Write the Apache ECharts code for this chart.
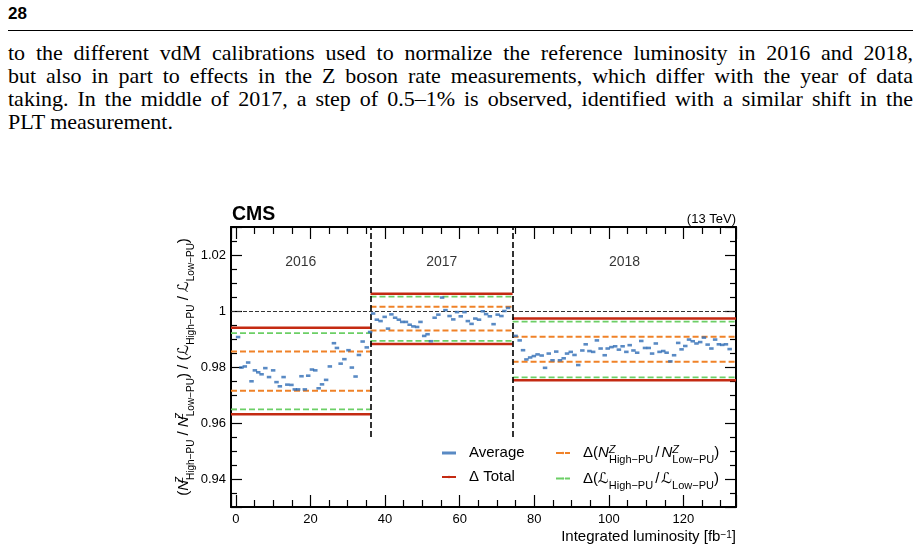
<!DOCTYPE html>
<html>
<head>
<meta charset="utf-8">
<script src="https://cdn.jsdelivr.net/npm/echarts@6/dist/echarts.min.js"></script>
<style>
html, body { margin: 0; padding: 0; background: #fff; }
#page { position: relative; width: 921px; height: 551px; overflow: hidden; }
#pno { position: absolute; left: 8px; top: 4px; font: bold 17px "Liberation Sans", Arial, sans-serif; color: #000; }
#rule { position: absolute; left: 8px; top: 30px; width: 905px; height: 1px; background: #000; }
#para { position: absolute; left: 8px; top: 41px; width: 905px; font: 22px/23px "Liberation Serif", serif; color: #000; }
#para div { text-align: justify; text-align-last: justify; }
#para div.last { text-align-last: left; }
#chart { position: absolute; left: 0; top: 0; width: 921px; height: 551px; }
</style>
</head>
<body>
<div id="page">
  <div id="pno">28</div>
  <div id="rule"></div>
  <div id="para">
    <div>to the different vdM calibrations used to normalize the reference luminosity in 2016 and 2018,</div>
    <div>but also in part to effects in the Z boson rate measurements, which differ with the year of data</div>
    <div>taking. In the middle of 2017, a step of 0.5–1% is observed, identified with a similar shift in the</div>
    <div class="last">PLT measurement.</div>
  </div>
  <div id="chart"></div>
</div>
<script>
// axis ranges
const lumiMin = -1.3;
const lumiMax = 134.1;
const ratioMin = 0.93;
const ratioMax = 1.03;

// year blocks: edges in integrated luminosity, labels
const yearEdges = [-1.3, 36.1, 74.2, 134.1];
const yearNames = ['2016', '2017', '2018'];
const yearLabelLumi = [17.4, 55.2, 104.2];
const yearLabelRatio = 1.0175;
const boundaryBottom = 0.955;

// uncertainty bands per year (upper / lower edge)
const totalUp = [0.9940, 1.0062, 0.9973];
const totalDown = [0.9631, 0.9882, 0.9753];
const zRatioUp = [0.9855, 1.0015, 0.9908];
const zRatioDown = [0.9715, 0.9930, 0.9819];
const lumiRatioUp = [0.9921, 1.0051, 0.9962];
const lumiRatioDown = [0.9649, 0.9893, 0.9763];

// averaged ratio points
const lumi2016 = [0.6,1.5,2.4,3.3,4.2,5.1,6.0,6.9,7.9,8.9,10.0,10.9,11.8,12.8,13.8,14.9,15.8,16.7,17.6,18.5,19.4,20.4,21.3,22.2,23.1,24.2,25.2,26.3,27.1,28.1,29.1,30.2,31.1,32.1,33.0,34.0,35.1,36.0];
const ratio2016 = [0.9907,0.9798,0.9802,0.9816,0.9749,0.9788,0.9781,0.9774,0.9796,0.9764,0.9788,0.9746,0.9731,0.9764,0.9737,0.9736,0.9720,0.9720,0.9767,0.9720,0.9769,0.9791,0.9788,0.9724,0.9738,0.9754,0.9802,0.9885,0.9868,0.9812,0.9828,0.9860,0.9798,0.9766,0.9843,0.9891,0.9870,0.9925];
const lumi2017 = [36.8,37.8,38.8,39.9,40.8,41.7,42.7,43.7,44.6,45.6,46.6,47.6,48.6,49.5,50.5,51.4,52.3,53.3,54.3,55.3,56.2,57.3,58.3,59.3,60.3,61.3,62.2,63.2,64.2,65.2,66.2,67.1,68.1,69.1,70.2,71.2,72.0,73.0];
const ratio2017 = [0.9991,0.9969,0.9964,0.9979,0.9937,0.9988,0.9976,0.9969,0.9961,0.9961,0.9951,0.9945,0.9943,0.9961,0.9911,0.9917,0.9892,0.9976,0.9987,1.0048,1.0003,0.9982,0.9970,0.9996,0.9981,0.9996,0.9964,0.9954,0.9973,0.9969,0.9999,0.9989,0.9981,0.9953,0.9987,0.9982,1.0000,1.0011];
const lumi2018 = [75.0,76.1,77.0,77.9,78.9,79.9,80.9,82.0,82.9,83.9,84.9,85.9,86.9,87.9,88.8,89.8,90.8,91.8,92.9,93.8,94.8,95.8,96.8,97.8,98.9,99.7,100.7,101.7,102.7,103.7,104.7,105.6,106.6,107.6,108.7,109.7,110.7,111.6,112.6,113.6,114.6,115.5,116.5,117.5,118.6,119.5,120.5,121.5,122.5,123.5,124.5,125.5,126.5,127.5,128.5,129.5,130.4,131.4,132.4];
const ratio2018 = [0.9911,0.9895,0.9860,0.9827,0.9834,0.9839,0.9845,0.9841,0.9797,0.9848,0.9824,0.9855,0.9824,0.9831,0.9848,0.9854,0.9843,0.9807,0.9859,0.9881,0.9857,0.9854,0.9895,0.9866,0.9842,0.9866,0.9871,0.9874,0.9862,0.9874,0.9854,0.9878,0.9859,0.9851,0.9893,0.9868,0.9868,0.9848,0.9884,0.9854,0.9857,0.9851,0.9820,0.9842,0.9886,0.9863,0.9875,0.9898,0.9892,0.9884,0.9889,0.9905,0.9880,0.9866,0.9898,0.9881,0.9879,0.9881,0.9864];

const FONT = '"Liberation Sans", "DejaVu Sans", Arial, sans-serif';
const BLUE = '#2f6db5';
const RED = '#c42a12';
const ORANGE = '#f08228';
const GREEN = '#6ccf66';

// rich text pieces for sub/superscripts (axis name)
const rich = {
  t: { fontSize: 15, fontFamily: FONT, color: '#000', lineHeight: 22 },
  i: { fontSize: 15, fontFamily: FONT, fontStyle: 'italic', color: '#000', lineHeight: 22 },
  l: { fontSize: 15, fontFamily: FONT, color: '#000', lineHeight: 22 },
  zs: { fontSize: 10, fontFamily: FONT, fontStyle: 'italic', color: '#000', height: 14, verticalAlign: 'top', width: 0.1 },
  sb: { fontSize: 10, fontFamily: FONT, color: '#000', height: 8, verticalAlign: 'bottom' },
  sp: { fontSize: 10, fontFamily: FONT, color: '#000', height: 12, verticalAlign: 'top' }
};
// slightly larger scripts in the legend
const legendRich = Object.assign({}, rich, {
  zs: { fontSize: 11, fontFamily: FONT, fontStyle: 'italic', color: '#000', height: 15, verticalAlign: 'top', width: 0.1 },
  sb: { fontSize: 11, fontFamily: FONT, color: '#000', height: 8, verticalAlign: 'bottom' },
  sl: { fontSize: 15, fontFamily: FONT, color: '#000', lineHeight: 22, padding: [0, 2, 0, 2] }
});
const zRatioText = '{t|Δ(}{i|N}{zs|Z}{sb|High−PU}{sl|/}{i|N}{zs|Z}{sb|Low−PU}{t|)}';
const lumiRatioText = '{t|Δ(}{l|ℒ}{sb|High−PU}{sl|/}{l|ℒ}{sb|Low−PU}{t|)}';
const yName = '{t|(}{i|N}{zs|Z}{sb|High−PU}{t| / }{i|N}{zs|Z}{sb|Low−PU}{t|) / (}{l|ℒ}{sb|High−PU}{t| / }{l|ℒ}{sb|Low−PU}{t|)}';
const legendText = { 'Average': '{t|Average}', 'Δ Total': '{t|Δ Total}', 'dN': zRatioText, 'dL': lumiRatioText };

function bandSegments(up, down) {
  const pts = [];
  for (let i = 0; i < up.length; i++) {
    pts.push([yearEdges[i], up[i]], [yearEdges[i + 1], up[i]], [yearEdges[i + 1], '-']);
    pts.push([yearEdges[i], down[i]], [yearEdges[i + 1], down[i]], [yearEdges[i + 1], '-']);
  }
  return pts;
}

function xAxisCfg(pos, showLabel) {
  return {
    type: 'value', position: pos, min: lumiMin, max: lumiMax, minInterval: 20, maxInterval: 20,
    axisLine: { show: true, onZero: false, lineStyle: { color: '#000', width: 2 } },
    axisTick: { show: true, inside: true, length: 12, lineStyle: { color: '#000', width: 1.2 } },
    minorTick: { show: true, splitNumber: 4, length: 7, lineStyle: { color: '#000', width: 1.2 } },
    axisLabel: { show: showLabel, showMinLabel: false, showMaxLabel: false, margin: 6, fontSize: 13, color: '#000', fontFamily: FONT },
    splitLine: { show: false }, minorSplitLine: { show: false }
  };
}
function yAxisCfg(pos, showLabel) {
  return {
    type: 'value', position: pos, min: ratioMin, max: ratioMax, minInterval: 0.02, maxInterval: 0.02,
    axisLine: { show: true, onZero: false, lineStyle: { color: '#000', width: 2 } },
    axisTick: { show: true, inside: true, length: 11, lineStyle: { color: '#000', width: 1.2 } },
    minorTick: { show: true, splitNumber: 4, length: 6, lineStyle: { color: '#000', width: 1.2 } },
    axisLabel: { show: showLabel, showMinLabel: false, showMaxLabel: false, margin: 5, fontSize: 13, color: '#000', fontFamily: FONT },
    splitLine: { show: false }, minorSplitLine: { show: false }
  };
}

const xMain = xAxisCfg('bottom', true);
xMain.name = 'Integrated luminosity [fb{sp|−1}]';
xMain.nameLocation = 'end';
xMain.nameGap = 0;
xMain.nameMoveOverlap = false;
xMain.nameTextStyle = { fontSize: 15, fontFamily: FONT, color: '#000', align: 'right', verticalAlign: 'top', padding: [22, 0, 0, 0], rich: { sp: rich.sp } };

const yMain = yAxisCfg('left', true);
yMain.name = yName;
yMain.nameLocation = 'middle';
yMain.nameRotate = 90;
yMain.nameGap = 36;
yMain.nameMoveOverlap = false;
yMain.nameTextStyle = { fontSize: 15, fontFamily: FONT, color: '#000', lineHeight: 22, rich: rich };

const avgData = []
  .concat(lumi2016.map((x, i) => [x, ratio2016[i]]))
  .concat(lumi2017.map((x, i) => [x, ratio2017[i]]))
  .concat(lumi2018.map((x, i) => [x, ratio2018[i]]));

const legendBase = {
  orient: 'vertical', itemWidth: 14, itemHeight: 3, itemGap: 2, top: 442, padding: 0,
  textStyle: { fontSize: 15, fontFamily: FONT, color: '#000', lineHeight: 22, padding: [0, 0, 0, 8], rich: legendRich },
  formatter: name => legendText[name]
};

const option = {
  animation: false,
  backgroundColor: 'transparent',
  title: [
    { text: 'CMS', left: 232, top: 205, padding: 0, textStyle: { fontSize: 19.5, fontWeight: 'bold', fontFamily: FONT, color: '#000' } },
    { text: '(13 TeV)', right: 185, top: 213, padding: 0, textStyle: { fontSize: 13, fontWeight: 'normal', fontFamily: FONT, color: '#000' } }
  ],
  grid: { left: 231, right: 185, top: 227, bottom: 44 },
  xAxis: [xMain, xAxisCfg('top', false)],
  yAxis: [yMain, yAxisCfg('right', false)],
  legend: [
    Object.assign({}, legendBase, { left: 441, data: [{ name: 'Average', icon: 'rect' }, 'Δ Total'] }),
    Object.assign({}, legendBase, { left: 555, data: ['dN', 'dL'] })
  ],
  series: [
    {
      name: 'dL', type: 'line', data: bandSegments(lumiRatioUp, lumiRatioDown), symbol: 'none', connectNulls: false,
      lineStyle: { color: GREEN, width: 1.8, type: [6, 3] }, itemStyle: { color: GREEN }, silent: true, z: 2
    },
    {
      name: 'dN', type: 'line', data: bandSegments(zRatioUp, zRatioDown), symbol: 'none', connectNulls: false,
      lineStyle: { color: ORANGE, width: 2, type: [6, 3] }, itemStyle: { color: ORANGE }, silent: true, z: 2
    },
    {
      name: 'Δ Total', type: 'line', data: bandSegments(totalUp, totalDown), symbol: 'none', connectNulls: false,
      lineStyle: { color: RED, width: 2.5 }, itemStyle: { color: RED }, silent: true, z: 3,
      markLine: {
        silent: true, symbol: 'none', label: { show: false },
        data: [
          { yAxis: 1, lineStyle: { color: '#333', width: 1.2, type: [4, 2] } },
          [{ coord: [yearEdges[1], boundaryBottom], lineStyle: { color: '#000', width: 1.6, type: [6, 3] } }, { coord: [yearEdges[1], ratioMax] }],
          [{ coord: [yearEdges[2], boundaryBottom], lineStyle: { color: '#000', width: 1.6, type: [6, 3] } }, { coord: [yearEdges[2], ratioMax] }]
        ]
      }
    },
    {
      name: 'Average', type: 'scatter', data: avgData, symbol: 'rect', symbolSize: [4.5, 2.6],
      itemStyle: { color: BLUE }, silent: true, z: 5
    },
    {
      name: 'years', type: 'scatter', symbolSize: 0.1, itemStyle: { color: 'transparent' }, silent: true,
      data: yearNames.map((n, i) => [yearLabelLumi[i], yearLabelRatio, n]),
      label: { show: true, position: 'inside', formatter: p => p.value[2], fontSize: 14, fontFamily: FONT, color: '#000' }
    }
  ]
};

const chart = echarts.init(document.getElementById('chart'));
chart.setOption(option);
</script>
</body>
</html>
